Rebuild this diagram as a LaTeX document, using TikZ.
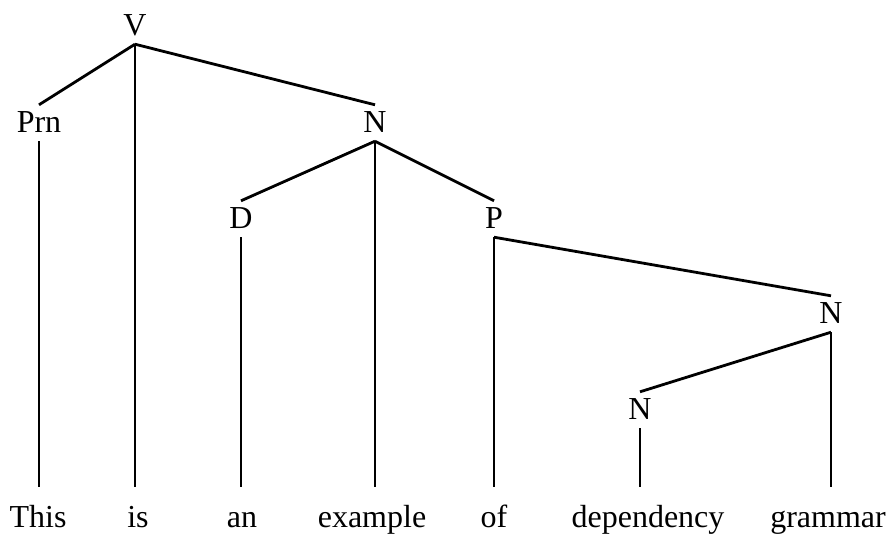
\documentclass[tikz,border=0pt]{standalone}
\usepackage{fontspec}
\setmainfont{Liberation Serif}
\usepackage{tikz}

\begin{document}
\begin{tikzpicture}[
  x=1pt, y=-1pt,
  cat/.style={anchor=base, inner xsep=0pt, inner ysep=6pt, text height=21pt, text depth=3pt, font=\fontsize{32}{38}\selectfont},
  word/.style={anchor=base, inner xsep=0pt, inner ysep=18pt, text height=22pt, text depth=4pt, font=\fontsize{32}{38}\selectfont},
  edge/.style={line width=2.8pt}
]
\useasboundingbox (0,0) rectangle (893,533);

% categories
\node[cat] (v)   at (135,35)  {V};
\node[cat] (prn) at (39,132)  {Prn};
\node[cat] (n)   at (375,132) {N};
\node[cat] (d)   at (241,228) {D};
\node[cat] (p)   at (494,228) {P};
\node[cat] (nr)  at (831,323) {N};
\node[cat] (nl)  at (640,419) {N};

% words
\node[word] (wthis)    at (38,527)  {This};
\node[word] (wis)      at (138,527) {is};
\node[word] (wan)      at (242,527) {an};
\node[word] (wexample) at (372,527) {example};
\node[word] (wof)      at (494,527) {of};
\node[word] (wdep)     at (648,527) {dependency};
\node[word] (wgrammar) at (828,527) {grammar};

% dependencies
\draw[edge] (v.south) -- (prn.north);
\draw[edge] (v.south) -- (n.north);
\draw[edge] (n.south) -- (d.north);
\draw[edge] (n.south) -- (p.north);
\draw[edge] (p.south) -- (nr.north);
\draw[edge] (nr.south) -- (nl.north);

% projection lines
\draw[edge] (prn.south) -- (prn.south |- wthis.north);
\draw[edge] (v.south) -- (v.south |- wis.north);
\draw[edge] (d.south) -- (d.south |- wan.north);
\draw[edge] (n.south) -- (n.south |- wexample.north);
\draw[edge] (p.south) -- (p.south |- wof.north);
\draw[edge] (nl.south) -- (nl.south |- wdep.north);
\draw[edge] (nr.south) -- (nr.south |- wgrammar.north);
\end{tikzpicture}
\end{document}
